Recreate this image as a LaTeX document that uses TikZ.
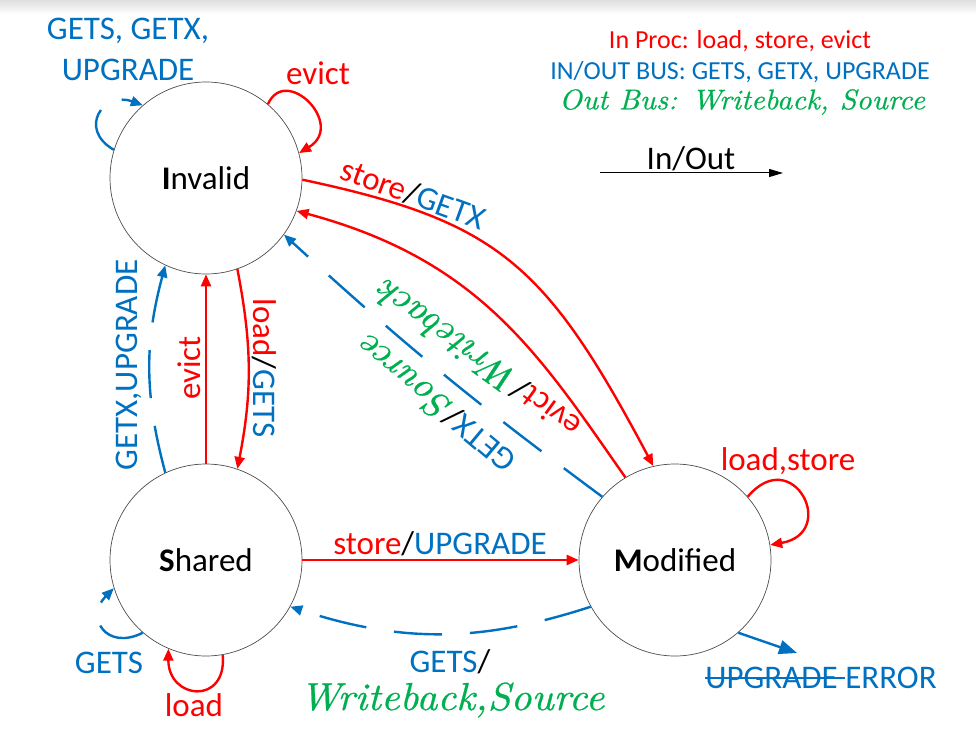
\documentclass[tikz,border=0pt]{standalone}
\usepackage{fontspec}
\setsansfont{Carlito}
\newfontfamily\wbfont[FakeStretch=1.05, FakeBold=0.6]{lmroman10-italic.otf}
\usetikzlibrary{arrows.meta}

\definecolor{procred}{RGB}{255,0,0}
\definecolor{busblue}{RGB}{0,112,192}
\definecolor{outgreen}{RGB}{0,176,80}

\newsavebox{\strikebox}
\newcommand{\strikeword}[1]{\sbox{\strikebox}{#1}\rlap{\rule[0.3em]{\wd\strikebox}{1.6pt}}\usebox{\strikebox}}

\begin{document}
\begin{tikzpicture}[x=1pt, y=1pt,
    every node/.style={font=\sffamily\fontsize{33}{41}\selectfont, inner sep=2pt},
    state/.style={circle, draw=black!70, line width=0.7pt, minimum size=192pt, inner sep=0pt},
    proc/.style={draw=procred, line width=2.4pt, -{Triangle[length=12pt,width=10pt]}},
    bus/.style={draw=busblue, line width=2.4pt, dash pattern=on 48pt off 28pt, -{Triangle[length=12pt,width=10pt]}},
    busloop/.style={bus, dash pattern=on 48pt off 24pt},
    legend/.style={font=\sffamily\fontsize{26}{30}\selectfont},
    wb/.style={font=\wbfont\fontsize{39}{43}\selectfont, text=outgreen}]

    % Draw background strip
    \shade[top color=black!13, bottom color=white] (0,0) rectangle (976,-14);
    \useasboundingbox (0,0) rectangle (976,-738);

    % Draw states
    \node[state] (inv) at (206,-178) {\textbf{I}nvalid};
    \node[state] (shr) at (206,-560) {\textbf{S}hared};
    \node[state] (mod) at (675,-560) {\textbf{M}odified};

    % Legend
    \node[legend, text=procred] (lgProc) at (740,-41) {In Proc: load, store, evict};
    \node[legend, text=busblue] (lgBus) at (740,-72) {IN/OUT BUS: GETS, GETX, UPGRADE};
    \node[legend, font=\wbfont\fontsize{28.5}{32}\selectfont, text=outgreen] (lgOut) at (742,-102) {Out Bus: Writeback, Source};
    \coordinate (lgA) at (600,-173);
    \coordinate (lgB) at (783,-173);
    \draw[line width=1pt, -{Triangle[length=14pt,width=8pt]}] (lgA) -- (lgB);
    \node[anchor=south] (lgInOut) at (691,-173) {In/Out};

    % Draw transitions between Invalid and Modified
    \draw[proc] (inv.-1) .. controls +(-12:200) and +(118:230) .. (mod.103);
    \draw[proc] (mod.121) .. controls +(125:150) and +(-15:190) .. (inv.-20);
    \draw[bus] (mod.139) to[bend left=3] (inv.-36);
    \node[rotate=-20] (lblStoreGetx) at (413,-194) {\textcolor{procred}{store}/\textcolor{busblue}{GETX}};
    \node[rotate=144] (lblEvictWb) at (478,-360) {\textcolor{procred}{evict}/{\wbfont\fontsize{37}{41}\selectfont\color{outgreen}Writeback}};
    \node[rotate=140] (lblGetxSrc) at (436,-405) {\textcolor{busblue}{GETX}/{\wbfont\fontsize{37}{41}\selectfont\color{outgreen}Source}};

    % Draw transitions between Invalid and Shared
    \draw[proc] (shr.90) -- (inv.-90);
    \draw[proc] (inv.-71) to[bend left=11] (shr.71);
    \draw[bus] (shr.115) to[bend left=15] (inv.-115);
    \node[rotate=90, text=procred] (lblEvictSI) at (189,-368) {evict};
    \node[rotate=-90] (lblLoadGets) at (264,-368) {\textcolor{procred}{load}/\textcolor{busblue}{GETS}};
    \node[rotate=90, text=busblue] (lblGetxUpg) at (129,-365) {GETX,UPGRADE};

    % Draw transitions between Shared and Modified
    \draw[proc] (shr.0) -- (mod.180);
    \draw[bus] (mod.-151) to[bend left=18] (shr.-29);
    \node (lblStoreUpg) at (440,-544) {\textcolor{procred}{store}/\textcolor{busblue}{UPGRADE}};
    \node (lblGetsWb) at (450,-662) {\textcolor{busblue}{GETS}/};
    \node[wb] (lblWbSrc) at (452,-700) {Writeback,Source};

    % Draw self loops
    \draw[proc] (inv.50) .. controls +(66:44) and +(31:55) .. (inv.15);
    \draw[busloop] (inv.163) .. controls +(150:42) and +(160:42) .. (inv.131);
    \draw[busloop] (shr.-131) .. controls +(207:41) and +(225:41) .. (shr.-163);
    \draw[proc] (shr.-80) .. controls +(-85:51) and +(-90:51) .. (shr.-113);
    \draw[proc] (mod.41) .. controls +(50:70) and +(10:70) .. (mod.9);
    \node[text=busblue, align=center] (lblIBus) at (128,-49) {GETS, GETX,\\UPGRADE};
    \node[text=procred] (lblIEvict) at (318,-73) {evict};
    \node[text=busblue] (lblSGets) at (109,-663) {GETS};
    \node[text=procred] (lblSLoad) at (194,-705) {load};
    \node[text=procred] (lblMLoop) at (788,-461) {load,store};

    % Error exit
    \coordinate (errTip) at (797,-653);
    \draw[draw=busblue, line width=2.4pt, -{Triangle[length=18pt,width=14pt]}] (mod.-49) -- (errTip);
    \node[text=busblue] (lblErr) at (821,-678) {\strikeword{UPGRADE\ }ERROR};
\end{tikzpicture}
\end{document}
